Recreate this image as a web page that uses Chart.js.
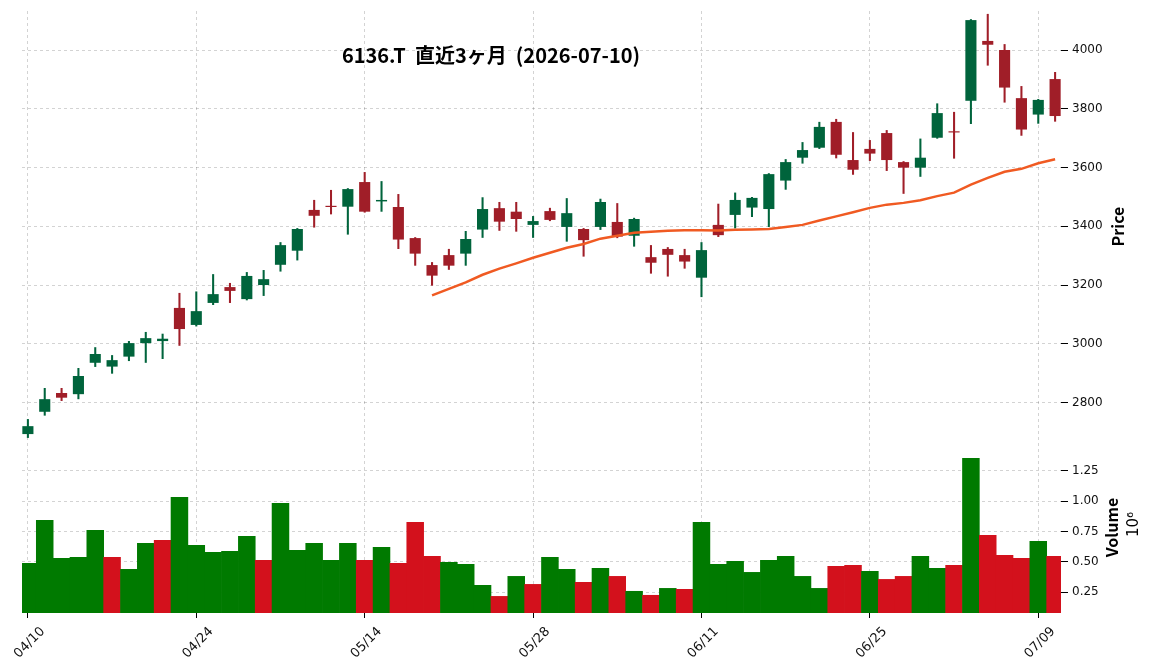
<!DOCTYPE html>
<html>
<head>
<meta charset="utf-8">
<script src="https://cdn.jsdelivr.net/npm/chart.js@4.4.1/dist/chart.umd.min.js"></script>
<style>
  html, body { margin: 0; padding: 0; background: #fff; }
  #wrap { width: 1156px; height: 670px; }
</style>
</head>
<body>
<div id="wrap"><canvas id="chart" width="1156" height="670"></canvas></div>
<script>
// trading days (last 3 months)
const dates = [
  '04/10','04/13','04/14','04/15','04/16','04/17','04/20','04/21','04/22','04/23',
  '04/24','04/27','04/28','04/30','05/01','05/07','05/08','05/11','05/12','05/13',
  '05/14','05/15','05/18','05/19','05/20','05/21','05/22','05/25','05/26','05/27',
  '05/28','05/29','06/01','06/02','06/03','06/04','06/05','06/08','06/09','06/10',
  '06/11','06/12','06/15','06/16','06/17','06/18','06/19','06/22','06/23','06/24',
  '06/25','06/26','06/29','06/30','07/01','07/02','07/03','07/06','07/07','07/08',
  '07/09','07/10'
];

const opens = [
  2692, 2768, 2832, 2828, 2935, 2922, 2956, 3002, 3009, 3122,
  3064, 3139, 3193, 3152, 3200, 3269, 3317, 3456, 3470, 3467,
  3551, 3485, 3466, 3360, 3268, 3302, 3307, 3389, 3462, 3450,
  3405, 3452, 3398, 3391, 3398, 3415, 3368, 3295, 3323, 3302,
  3225, 3405, 3439, 3464, 3459, 3556, 3634, 3668, 3756, 3626,
  3664, 3718, 3619, 3600, 3702, 3724, 3828, 4032, 4001, 3837,
  3781, 3902
];
const highs = [
  2742, 2848, 2848, 2916, 2987, 2960, 3008, 3039, 3033, 3172,
  3177, 3236, 3206, 3243, 3250, 3345, 3393, 3489, 3523, 3529,
  3584, 3553, 3509, 3362, 3277, 3322, 3383, 3498, 3482, 3482,
  3434, 3462, 3495, 3393, 3493, 3478, 3428, 3335, 3328, 3322,
  3345, 3476, 3514, 3499, 3580, 3628, 3686, 3755, 3765, 3720,
  3693, 3727, 3621, 3698, 3818, 3789, 4105, 4123, 4020, 3877,
  3833, 3925
];
const lows = [
  2680, 2756, 2806, 2812, 2922, 2899, 2942, 2936, 2949, 2994,
  3060, 3133, 3140, 3149, 3164, 3247, 3285, 3397, 3442, 3373,
  3448, 3451, 3324, 3267, 3199, 3253, 3267, 3362, 3386, 3383,
  3362, 3419, 3349, 3298, 3389, 3361, 3332, 3240, 3230, 3257,
  3160, 3365, 3394, 3433, 3399, 3526, 3615, 3665, 3633, 3577,
  3624, 3590, 3512, 3570, 3700, 3632, 3750, 3949, 3823, 3710,
  3751, 3758
];
const closes = [
  2719, 2811, 2816, 2890, 2965, 2944, 3002, 3019, 3017, 3050,
  3111, 3169, 3180, 3231, 3220, 3336, 3391, 3436, 3466, 3527,
  3450, 3490, 3355, 3307, 3232, 3266, 3357, 3459, 3416, 3425,
  3418, 3422, 3445, 3353, 3483, 3365, 3425, 3276, 3303, 3280,
  3319, 3370, 3490, 3497, 3578, 3619, 3660, 3739, 3644, 3593,
  3648, 3626, 3600, 3634, 3786, 3720, 4103, 4019, 3873, 3730,
  3831, 3776
];
// volume in millions of shares
const volumes = [
  0.486, 0.841, 0.527, 0.536, 0.758, 0.536, 0.437, 0.651, 0.676, 1.030,
  0.635, 0.577, 0.585, 0.709, 0.511, 0.981, 0.593, 0.651, 0.511, 0.651,
  0.511, 0.618, 0.486, 0.824, 0.544, 0.495, 0.478, 0.305, 0.214, 0.379,
  0.313, 0.536, 0.437, 0.330, 0.445, 0.379, 0.256, 0.223, 0.280, 0.272,
  0.824, 0.478, 0.503, 0.412, 0.511, 0.544, 0.379, 0.280, 0.462, 0.470,
  0.420, 0.354, 0.379, 0.544, 0.445, 0.470, 1.352, 0.717, 0.552, 0.527,
  0.668, 0.544
];
// 25 day moving average, starts at the 25th session
const maStart = 24;
const ma25 = [
  3165, 3187, 3209, 3235, 3256, 3274, 3293, 3310, 3327, 3340,
  3358, 3368, 3378, 3382, 3385, 3387, 3387, 3386, 3388, 3389,
  3391, 3398, 3405, 3420, 3434, 3448, 3463, 3474, 3480, 3489,
  3503, 3515, 3542, 3565, 3586, 3596, 3615, 3629
];

const priceTicks = [2800, 3000, 3200, 3400, 3600, 3800, 4000];
const volTicks = [0.25, 0.5, 0.75, 1.0, 1.25];
const dateTickIdx = [0, 10, 20, 30, 40, 50, 60];
const titleText = '6136.T  直近3ヶ月  (2026-07-10)';

const UP = '#00643c', DOWN = '#a01e28';
const VUP = '#007a00', VDOWN = '#d3111c';

const candleColors = closes.map((c, i) => c >= opens[i] ? UP : DOWN);
const volColors = closes.map((c, i) => (i === 0 || c >= closes[i - 1]) ? VUP : VDOWN);

Chart.defaults.font.family = 'DejaVu Sans';
Chart.defaults.font.size = 12;
Chart.defaults.color = '#111';

const gridCol = 'rgba(0,0,0,0.22)';

// axis titles + chart title drawn straight on the canvas (matplotlib look)
const textPlugin = {
  id: 'panelText',
  afterDraw(chart) {
    const { ctx, scales } = chart;
    ctx.save();
    ctx.fillStyle = '#000';
    ctx.textAlign = 'center';
    ctx.textBaseline = 'middle';
    ctx.font = 'bold 20px "Noto Sans CJK JP"';
    ctx.fillText(titleText, 491, 55);

    const yp = (scales.y.top + scales.y.bottom) / 2;
    ctx.save();
    ctx.translate(1118, yp);
    ctx.rotate(-Math.PI / 2);
    ctx.font = 'bold 16px "Noto Sans CJK JP"';
    ctx.fillText('Price', 0, 0);
    ctx.restore();

    const yv = (scales.yVol.top + scales.yVol.bottom) / 2;
    ctx.save();
    ctx.translate(1112, yv);
    ctx.rotate(-Math.PI / 2);
    ctx.font = 'bold 16px "Noto Sans CJK JP"';
    ctx.fillText('Volume', 0, 0);
    ctx.restore();

    ctx.save();
    ctx.translate(1134, yv - 3);
    ctx.rotate(-Math.PI / 2);
    ctx.font = '15px "DejaVu Sans"';
    ctx.fillText('10⁶', 0, 0);
    ctx.restore();
    ctx.restore();
  }
};

const fixY = (w) => (s) => { s.width = w; s.paddingTop = 0; s.paddingBottom = 0; };

const ctx = document.getElementById('chart').getContext('2d');
const myChart = new Chart(ctx, {
  type: 'bar',
  data: {
    datasets: [
      {
        label: 'MA25',
        type: 'line',
        data: ma25.map((v, k) => ({ x: maStart + k, y: v })),
        borderColor: '#f05a22',
        borderWidth: 2.5,
        pointRadius: 0,
        tension: 0,
        yAxisID: 'y',
        order: 0
      },
      {
        label: 'body',
        data: opens.map((o, i) => ({ x: i, y: [o, closes[i]] })),
        backgroundColor: candleColors,
        barPercentage: 0.66,
        categoryPercentage: 1,
        grouped: false,
        yAxisID: 'y',
        order: 1
      },
      {
        label: 'wick',
        data: lows.map((l, i) => ({ x: i, y: [l, highs[i]] })),
        backgroundColor: candleColors,
        barThickness: 1.4,
        grouped: false,
        yAxisID: 'y',
        order: 2
      },
      {
        label: 'Volume',
        data: volumes.map((v, i) => ({ x: i, y: v })),
        backgroundColor: volColors,
        barPercentage: 1,
        categoryPercentage: 1,
        grouped: false,
        yAxisID: 'yVol',
        order: 3
      }
    ]
  },
  options: {
    responsive: false,
    animation: false,
    devicePixelRatio: 1,
    layout: { padding: { left: 22, top: 11, right: 0, bottom: 0 } },
    plugins: {
      legend: { display: false },
      tooltip: { enabled: false }
    },
    scales: {
      x: {
        type: 'linear',
        min: -0.35,
        max: 61.35,
        offset: false,
        grid: { offset: false, color: gridCol, lineWidth: 0.8, tickLength: 5, tickColor: '#000', tickWidth: 1 },
        border: { display: false, dash: [3, 3] },
        ticks: {
          autoSkip: false,
          minRotation: 45,
          maxRotation: 45,
          padding: 6,
          labelOffset: 15,
          font: { size: 13 },
          callback: (v) => dates[v]
        },
        afterBuildTicks: (s) => { s.ticks = dateTickIdx.map(v => ({ value: v })); },
        afterFit: (s) => { s.height = 57; s.paddingLeft = 0; s.paddingRight = 0; }
      },
      y: {
        type: 'linear',
        position: 'right',
        stack: 'panels',
        stackWeight: 431,
        min: 2665,
        max: 4134,
        beginAtZero: false,
        grid: { color: gridCol, lineWidth: 0.8, tickLength: 7, tickColor: '#000', tickWidth: 1 },
        border: { display: false, dash: [3, 3] },
        ticks: { padding: 4, callback: (v) => String(v) },
        afterBuildTicks: (s) => { s.ticks = priceTicks.map(v => ({ value: v })); },
        afterFit: fixY(95)
      },
      yVol: {
        type: 'linear',
        position: 'right',
        stack: 'panels',
        stackWeight: 171,
        min: 0.077,
        max: 1.487,
        beginAtZero: false,
        grid: { color: gridCol, lineWidth: 0.8, tickLength: 7, tickColor: '#000', tickWidth: 1 },
        border: { display: false, dash: [3, 3] },
        ticks: { padding: 4, callback: (v) => v.toFixed(2) },
        afterBuildTicks: (s) => { s.ticks = volTicks.map(v => ({ value: v })); },
        afterFit: fixY(95)
      }
    }
  },
  plugins: [textPlugin]
});
</script>
</body>
</html>
